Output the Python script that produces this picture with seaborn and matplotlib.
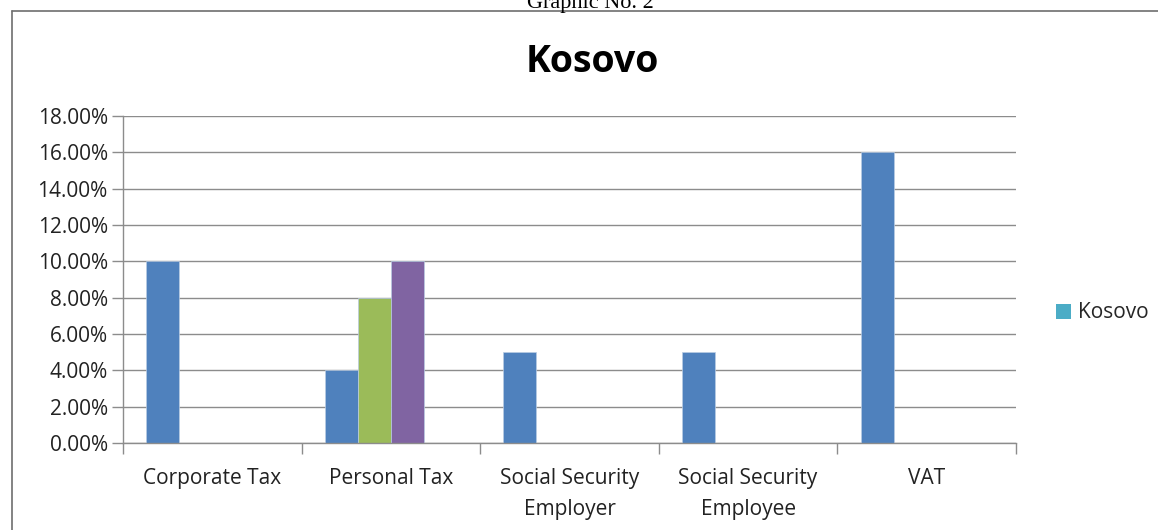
import numpy as np
import pandas as pd
import seaborn as sns
import matplotlib.pyplot as plt
from matplotlib.ticker import FixedLocator, PercentFormatter
from matplotlib.lines import Line2D
from matplotlib.patches import Patch

# Tax rates (percent) by category; four series, the last one carries the legend name
categories = ["Corporate Tax", "Personal Tax", "Social Security\nEmployer",
              "Social Security\nEmployee", "VAT"]
series_names = ["Series 1", "Series 2", "Series 3", "Kosovo"]
series_1 = [10.0, 4.0, 5.0, 5.0, 16.0]
series_2 = [np.nan, 8.0, np.nan, np.nan, np.nan]
series_3 = [np.nan, 10.0, np.nan, np.nan, np.nan]
series_4 = [np.nan, np.nan, np.nan, np.nan, np.nan]
y_ticks = [0, 2, 4, 6, 8, 10, 12, 14, 16, 18]

colors = ["#4F81BD", "#9BBB59", "#8064A2", "#4BACC6"]

rows = []
for name, vals in zip(series_names, [series_1, series_2, series_3, series_4]):
    for cat, v in zip(categories, vals):
        rows.append({"category": cat, "series": name, "rate": v})
df = pd.DataFrame(rows)

sns.set_theme(style="white")
plt.rcParams["font.family"] = ["Open Sans", "DejaVu Sans"]

fig = plt.figure(figsize=(11.58, 5.30), dpi=100)
ax = fig.add_axes([123 / 1158, 87 / 530, 893 / 1158, 327 / 530])

sns.barplot(data=df, x="category", y="rate", hue="series", order=categories,
            hue_order=series_names, palette=colors, width=0.74, dodge=True,
            saturation=1, ax=ax, legend=False, edgecolor="#B9CCE4", linewidth=0.5)

ax.set_xlim(-0.5, len(categories) - 0.5)
ax.set_ylim(0, 18)
ax.yaxis.set_major_locator(FixedLocator(y_ticks))
ax.yaxis.set_major_formatter(PercentFormatter(decimals=2))
ax.grid(axis="y", color="#8C8C8C", linewidth=1.0)
ax.set_axisbelow(True)

for side in ["top", "right"]:
    ax.spines[side].set_visible(False)
for side in ["left", "bottom"]:
    ax.spines[side].set_color("#8C8C8C")
    ax.spines[side].set_linewidth(1.0)

ax.tick_params(axis="y", which="major", length=8, width=1, color="#8C8C8C",
               labelsize=15, labelcolor="#222222", pad=3, left=True)
ax.tick_params(axis="x", which="major", length=0, labelsize=15,
               labelcolor="#222222", pad=18)
ax.set_xticks(np.arange(-0.5, len(categories)), minor=True)
ax.tick_params(axis="x", which="minor", length=8, width=1, color="#8C8C8C",
               bottom=True)
for lbl in ax.get_xticklabels():
    lbl.set_linespacing(1.6)
    lbl.set_verticalalignment("top")
ax.set_xlabel("")
ax.set_ylabel("")

fig.text(592 / 1158, 1 - 62 / 530, "Kosovo", ha="center", va="center",
         fontsize=27, fontweight="bold", color="#000000")
fig.text(590 / 1158, 1 - 8 / 530, "Graphic No. 2", ha="center", va="baseline",
         fontsize=16, family=["Liberation Serif", "DejaVu Serif"], color="#000000")

# legend entry for the named series
handles = [Patch(facecolor=colors[3], edgecolor="none")]
fig.legend(handles, ["Kosovo"], loc="center left",
           bbox_to_anchor=(1056 / 1158, 1 - 313 / 530), frameon=False,
           fontsize=15, handlelength=0.7, handleheight=0.7, handletextpad=0.35,
           borderaxespad=0, borderpad=0)

# outer frame of the chart
fig.add_artist(Line2D([12 / 1158, 12 / 1158], [0, 1 - 11 / 530],
                      transform=fig.transFigure, color="#6E6E6E", linewidth=1.2))
fig.add_artist(Line2D([12 / 1158, 1], [1 - 11 / 530, 1 - 11 / 530],
                      transform=fig.transFigure, color="#6E6E6E", linewidth=1.2))

fig.savefig("out.png", dpi=100, facecolor="white")
